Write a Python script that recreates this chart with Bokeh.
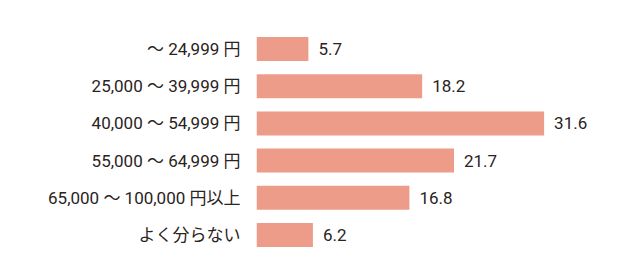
from bokeh.plotting import figure
from bokeh.models import FactorRange, Range1d, ColumnDataSource
from bokeh.core.properties import value
from bokeh.embed import file_html
from bokeh.resources import INLINE

categories = ["～ 24,999 円", "25,000 ～ 39,999 円", "40,000 ～ 54,999 円",
              "55,000 ～ 64,999 円", "65,000 ～ 100,000 円以上", "よく分らない"]
values = [5.7, 18.2, 31.6, 21.7, 16.8, 6.2]
value_labels = ["5.7", "18.2", "31.6", "21.7", "16.8", "6.2"]

FONT = "Roboto, Noto Sans CJK JP"
TEXT_COLOR = "#2a2322"
BAR_COLOR = "#EE9C8A"

src = ColumnDataSource(dict(cat=categories, val=values, lab=value_labels))

p = figure(width=631, height=258, output_backend="svg", toolbar_location=None,
           y_range=FactorRange(factors=list(reversed(categories)), range_padding=0),
           x_range=Range1d(0, 41.2),
           min_border_left=256, min_border_right=0, min_border_top=30, min_border_bottom=5)

p.hbar(y="cat", right="val", left=0, height=0.645, source=src,
       fill_color=BAR_COLOR, line_color=None)

p.text(x="val", y="cat", text="lab", source=src, x_offset=10,
       text_baseline="middle", text_align="left",
       text_font=value(FONT), text_font_size="17px", text_color=TEXT_COLOR)

p.xaxis.visible = False
yax = p.yaxis[0]
yax.axis_line_color = None
yax.major_tick_line_color = None
yax.minor_tick_line_color = None
yax.major_label_text_font = FONT
yax.major_label_text_font_size = "17px"
yax.major_label_text_color = TEXT_COLOR
yax.major_label_standoff = 10

p.xgrid.visible = False
p.ygrid.visible = False
p.outline_line_color = None
p.background_fill_color = "white"
p.border_fill_color = "white"

open("out.html", "w").write(file_html(p, INLINE))
